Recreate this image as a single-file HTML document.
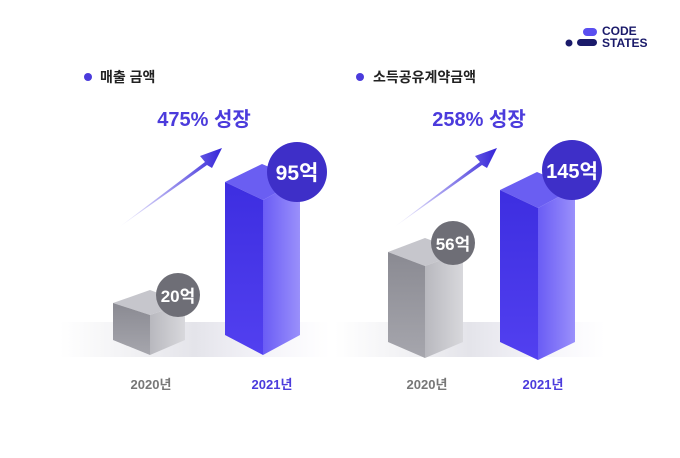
<!DOCTYPE html>
<html><head><meta charset="utf-8"><style>
body{margin:0;width:680px;height:453px;background:#fff;overflow:hidden;font-family:"Liberation Sans","Noto Sans CJK KR",sans-serif}
svg text{font-family:"Liberation Sans","Noto Sans CJK KR",sans-serif}
</style></head><body>
<svg width="680" height="453" viewBox="0 0 680 453">
<defs>
<linearGradient id="fr" x1="0" x2="0" y1="0" y2="1"><stop offset="0" stop-color="#3d2ee0"/><stop offset="1" stop-color="#5240f0"/></linearGradient>
<linearGradient id="sd" x1="0" x2="1"><stop offset="0" stop-color="#6a5cf5"/><stop offset="1" stop-color="#9a90fb"/></linearGradient>
<linearGradient id="gf" x1="0" x2="0" y1="0" y2="1"><stop offset="0" stop-color="#8a8a92"/><stop offset="1" stop-color="#a6a6ad"/></linearGradient>
<linearGradient id="gs" x1="0" x2="1"><stop offset="0" stop-color="#b8b8be"/><stop offset="1" stop-color="#d8d8dc"/></linearGradient>
<linearGradient id="ar" x1="0" x2="1"><stop offset="0" stop-color="#4030e0" stop-opacity="0"/><stop offset="1" stop-color="#3424d8"/></linearGradient>
<linearGradient id="fl" x1="0" x2="1"><stop offset="0" stop-color="#e6e6ea" stop-opacity="0"/><stop offset="0.5" stop-color="#e4e4ea"/><stop offset="1" stop-color="#eceaf8" stop-opacity="0"/></linearGradient>
</defs>
<rect x="583" y="28" width="14" height="8" rx="4" fill="#5a4ff0"/>
<circle cx="569" cy="43" r="3.5" fill="#1a1a6a"/>
<rect x="577" y="39" width="20" height="7" rx="3.5" fill="#1a1a6a"/>
<text x="602" y="35" font-size="12" font-weight="900" fill="#1a1a6a">CODE</text>
<text x="602" y="47" font-size="12" font-weight="900" fill="#1a1a6a">STATES</text>
<circle cx="88" cy="77" r="4" fill="#4b3bdc"/>
<text x="100" y="82" font-size="14" font-weight="bold" fill="#222">매출 금액</text>
<circle cx="360" cy="77" r="4" fill="#4b3bdc"/>
<text x="373" y="82" font-size="14" font-weight="bold" fill="#222">소득공유계약금액</text>
<text x="204" y="126" font-size="20" font-weight="bold" fill="#4b3bdc" text-anchor="middle">475% 성장</text>
<text x="479" y="126" font-size="20" font-weight="bold" fill="#4b3bdc" text-anchor="middle">258% 성장</text>
<rect x="60" y="322" width="270" height="35" fill="url(#fl)"/>
<rect x="335" y="322" width="270" height="35" fill="url(#fl)"/>
<polygon points="118,228 205,162 200,156 222,148 212,168 207,165" fill="url(#ar)"/>
<polygon points="393,228 480,162 475,156 497,148 487,168 482,165" fill="url(#ar)"/>
<polygon points="113,303 150,290 185,303 150,315" fill="#c6c6cc"/>
<polygon points="113,303 150,315 150,355 113,340" fill="url(#gf)"/>
<polygon points="150,315 185,303 185,340 150,355" fill="url(#gs)"/>
<circle cx="178" cy="295" r="22" fill="#6e6e76"/>
<text x="178" y="302" font-size="17" font-weight="bold" fill="#fff" text-anchor="middle">20억</text>
<polygon points="225,182 262,164 300,180 263,200" fill="#6a5ef2"/>
<polygon points="225,182 263,200 263,355 225,335" fill="url(#fr)"/>
<polygon points="263,200 300,180 300,335 263,355" fill="url(#sd)"/>
<circle cx="297" cy="172" r="30" fill="#3e2fc8"/>
<text x="297" y="180" font-size="21" font-weight="bold" fill="#fff" text-anchor="middle">95억</text>
<polygon points="388,252 425,238 463,252 425,266" fill="#c6c6cc"/>
<polygon points="388,252 425,266 425,358 388,342" fill="url(#gf)"/>
<polygon points="425,266 463,252 463,342 425,358" fill="url(#gs)"/>
<circle cx="453" cy="243" r="22" fill="#6e6e76"/>
<text x="453" y="250" font-size="17" font-weight="bold" fill="#fff" text-anchor="middle">56억</text>
<polygon points="500,190 537,172 575,188 538,208" fill="#6a5ef2"/>
<polygon points="500,190 538,208 538,360 500,342" fill="url(#fr)"/>
<polygon points="538,208 575,188 575,342 538,360" fill="url(#sd)"/>
<circle cx="572" cy="170" r="30" fill="#3e2fc8"/>
<text x="572" y="178" font-size="20" font-weight="bold" fill="#fff" text-anchor="middle">145억</text>
<text x="151" y="389" font-size="13" font-weight="bold" fill="#777" text-anchor="middle">2020년</text>
<text x="272" y="389" font-size="13" font-weight="bold" fill="#4b3bdc" text-anchor="middle">2021년</text>
<text x="427" y="389" font-size="13" font-weight="bold" fill="#777" text-anchor="middle">2020년</text>
<text x="543" y="389" font-size="13" font-weight="bold" fill="#4b3bdc" text-anchor="middle">2021년</text>
</svg>
</body></html>
